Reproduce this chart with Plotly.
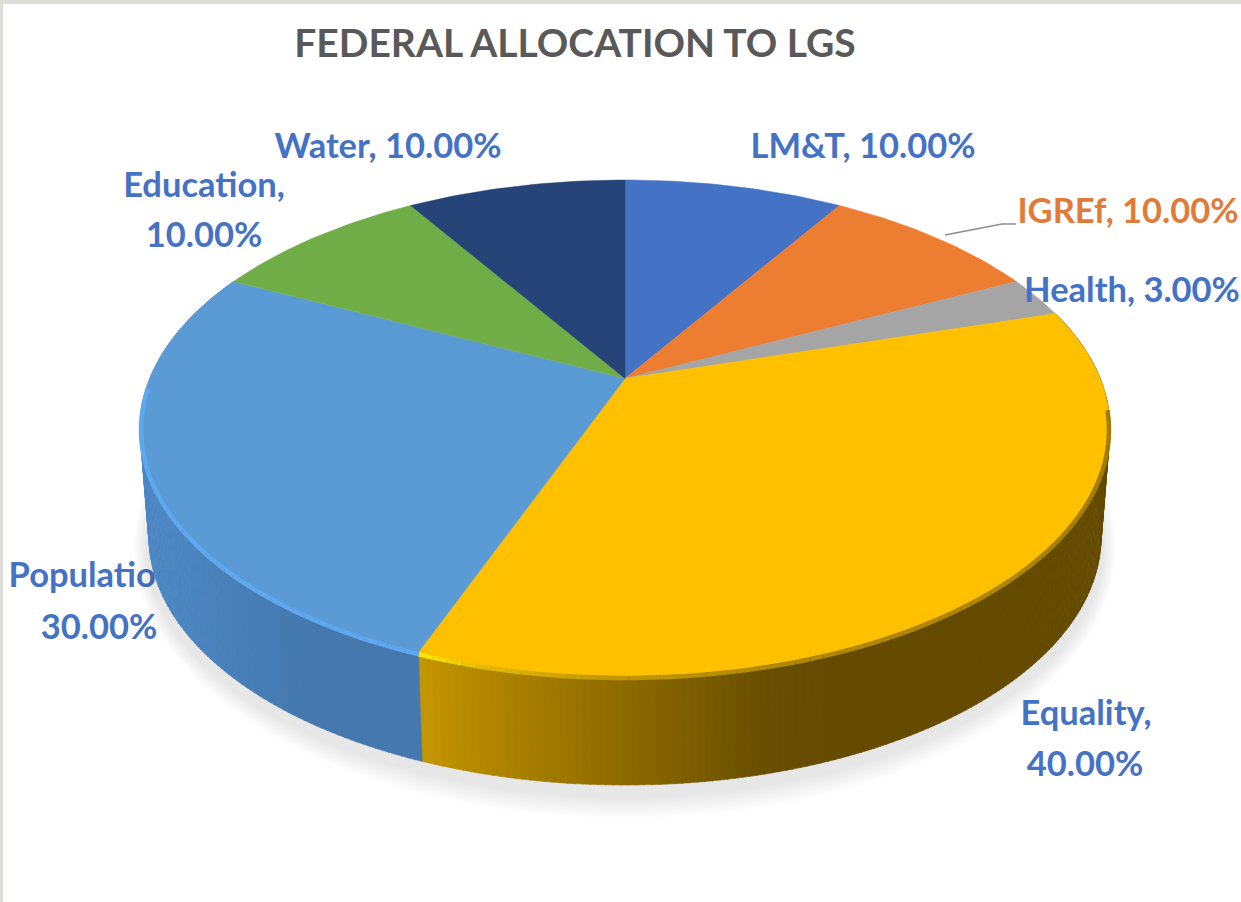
import numpy as np
import plotly.graph_objects as go

# ---------- data ----------
categories = ["LM&T", "IGREf", "Health", "Equality", "Population", "Education", "Water"]
values = [10.0, 10.0, 3.0, 40.0, 30.0, 10.0, 10.0]
title_text = "FEDERAL ALLOCATION TO LGS"

# ---------- style ----------
slice_colors = ["#4472c4", "#ed7d31", "#a5a5a5", "#ffc000", "#5b9bd5", "#70ad47", "#264478"]
label_blue = "#4472c4"
label_colors = [label_blue, "#e07b39", label_blue, label_blue, label_blue, label_blue, label_blue]
FONT = "Lato, Carlito, Calibri, sans-serif"
LABEL_SIZE = 34.5

W, H = 1241, 902
CX, TOP_CY, RX, RY, PERSP = 625.0, 428.0, 485.0, 248.0, 0.2
BOT_CY, BOT_RX, BOT_RY = 537.0, 476.0, 248.0


def ring(theta_deg, cy=TOP_CY, rx=RX, ry=RY):
    """Perspective projection of a unit-circle angle (clockwise from top)."""
    t = np.radians(theta_deg)
    u, v = np.sin(t), np.cos(t)
    d = 1 + PERSP * v
    return CX + rx * u * np.sqrt(1 - PERSP ** 2) / d, cy - ry * (v + PERSP) / d


def hex_rgb(h):
    return np.array([int(h[i:i + 2], 16) for i in (1, 3, 5)], float)


def ramp(x, xs, cols):
    arr = np.array([hex_rgb(c) for c in cols])
    return "rgb(%d,%d,%d)" % tuple(np.interp(x, xs, arr[:, i]) for i in range(3))


fig = go.Figure()


def text_trace(x, y, s, color):
    fig.add_trace(go.Scatter(x=[x], y=[y], mode="text", text=[s], textposition="middle center",
                             textfont=dict(family=FONT, size=LABEL_SIZE, color=color,
                                           weight="bold"),
                             hoverinfo="skip", showlegend=False))


fracs = np.array(values) / sum(values) * 360
edges = np.concatenate([[0], np.cumsum(fracs)])
names = {c: i for i, c in enumerate(categories)}


def label_parts(cat):
    i = names[cat]
    return f"{cat},", f"{values[i]:.2f}%", label_colors[i]


# the "Population" label sits behind the pie, as in the source
a, b, c = label_parts("Population")
text_trace(96, 578, a, c)
text_trace(99, 630, b, c)

# soft shadow
for k in range(12):
    g = 24 - 2 * k
    t = np.linspace(0, 360, 181)
    sx, sy = ring(t, BOT_CY + 10, BOT_RX + 0.55 * g + 2, BOT_RY + g)
    fig.add_trace(go.Scatter(x=sx, y=sy, mode="lines", fill="toself", line=dict(width=0),
                             fillcolor="rgba(60,60,60,0.012)", hoverinfo="skip", showlegend=False))

# side wall, drawn as short shaded strips
side_stops = {
    "Equality": ([425, 520, 640, 760, 840], ["#c39500", "#a87f00", "#8a6800", "#6a5000", "#654b00"]),
    "Population": ([150, 300, 430], ["#4d88c4", "#4579b0", "#4678ae"]),
}
for cat, (xs, cols) in side_stops.items():
    i = names[cat]
    th = np.linspace(edges[i], edges[i + 1], int(fracs[i] / 0.75) + 1)
    for t0, t1 in zip(th[:-1], th[1:]):
        tt = np.linspace(t0, t1 + 0.1, 2)
        xa, ya = ring(tt)
        xb, yb = ring(tt[::-1], BOT_CY, BOT_RX, BOT_RY)
        col = ramp((xa[0] + xa[1]) / 2, xs, cols)
        fig.add_trace(go.Scatter(x=np.r_[xa, xb, xa[0]], y=np.r_[ya, yb, ya[0]], mode="lines",
                                 fill="toself", fillcolor=col, line=dict(width=0.6, color=col),
                                 hoverinfo="skip", showlegend=False))

# top face wedges
for i, cat in enumerate(categories):
    th = np.linspace(edges[i], edges[i + 1], max(int(fracs[i]), 4) + 1)
    xs, ys = ring(th)
    ax, ay = CX, TOP_CY - RY * PERSP
    pct = f"{values[i]:.2f}%"
    fig.add_trace(go.Scatter(x=np.r_[ax, xs, ax], y=np.r_[ay, ys, ay], mode="lines", fill="toself",
                             fillcolor=slice_colors[i], line=dict(width=0.5, color=slice_colors[i]),
                             name=cat, hovertext=f"{cat}, {pct}", hoverinfo="text", showlegend=False))

# bevel highlight along the visible rim
rim_stops = {
    "Equality": ([425, 480, 600, 800, 1000, 1110], ["#ffe600", "#e8bb00", "#c49a00", "#b08800", "#b08800", "#a07c00"]),
    "Population": ([140, 430], ["#5fa8ee", "#5fa8ee"]),
}
for cat, (xs, cols) in rim_stops.items():
    i = names[cat]
    lo, hi = max(edges[i], 97), min(edges[i + 1], 268)
    th = np.linspace(lo, hi, int((hi - lo) / 1.5) + 1)
    for t0, t1 in zip(th[:-1], th[1:]):
        xa, ya = ring(np.array([t0, t1]), TOP_CY + 2, RX - 1, RY)
        col = ramp((xa[0] + xa[1]) / 2, xs, cols)
        fig.add_trace(go.Scatter(x=xa, y=ya, mode="lines", line=dict(width=4.5, color=col),
                                 hoverinfo="skip", showlegend=False))

# leader line for the IGREf label
fig.add_trace(go.Scatter(x=[945, 1002, 1016], y=[235, 224, 224], mode="lines",
                         line=dict(width=1.5, color="#8c8c8c"), hoverinfo="skip", showlegend=False))

# remaining labels, on top of the pie
a, b, c = label_parts("Water")
text_trace(388, 149, f"{a} {b}", c)
a, b, c = label_parts("LM&T")
text_trace(863, 149, f"{a} {b}", c)
a, b, c = label_parts("IGREf")
text_trace(1128, 214, f"{a} {b}", c)
a, b, c = label_parts("Health")
text_trace(1132, 293, f"{a} {b}", c)
a, b, c = label_parts("Education")
text_trace(204, 188, a, c)
text_trace(204, 238, b, c)
a, b, c = label_parts("Equality")
text_trace(1086, 716, a, c)
text_trace(1085, 767, b, c)

fig.update_layout(
    width=W, height=H, margin=dict(l=0, r=0, t=0, b=0),
    paper_bgcolor="white", plot_bgcolor="white", showlegend=False,
    title=dict(text=title_text, x=575 / W, xanchor="center", y=1 - 43 / H, yanchor="middle",
               font=dict(family=FONT, size=39, color="#595959", weight="bold")),
    xaxis=dict(range=[0, W], visible=False, fixedrange=True),
    yaxis=dict(range=[H, 0], visible=False, fixedrange=True),
    shapes=[
        dict(type="rect", xref="x", yref="y", x0=0, x1=W, y0=0, y1=4, fillcolor="#dcdcd8", line_width=0, layer="below"),
        dict(type="rect", xref="x", yref="y", x0=0, x1=3, y0=0, y1=H, fillcolor="#dcdcd8", line_width=0, layer="below"),
    ],
)
fig.write_html("out.html", config=dict(displayModeBar=False),
               post_script="document.body.style.margin='0';document.body.style.overflow='hidden';")
